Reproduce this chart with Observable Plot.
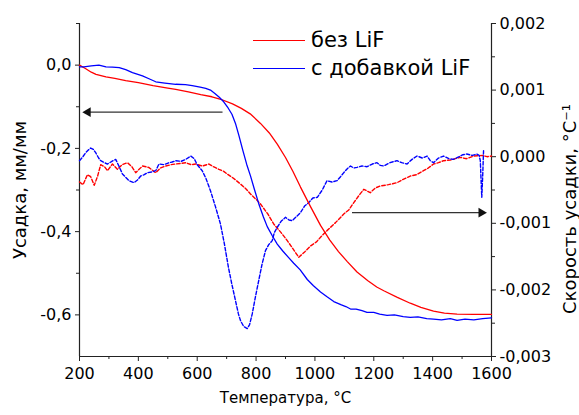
<!DOCTYPE html>
<html><head><meta charset="utf-8">
<script src="https://cdn.jsdelivr.net/npm/d3@7"></script>
<script src="https://cdn.jsdelivr.net/npm/@observablehq/plot@0.6"></script>
<style>
body{margin:0;background:#fff;}
#wrap{position:relative;width:579px;height:415px;font-family:"DejaVu Sans",sans-serif;color:#000;}
.leg{position:absolute;left:253px;height:24px;display:flex;align-items:center;font-size:21px;white-space:nowrap;}
.leg .sw{display:inline-block;width:52px;height:0;margin-right:6px;}
</style>
</head><body><div id="wrap"></div>
<script>
// ---- data ----
const legendLabels = ["без LiF", "с добавкой LiF"];
const seriesColors = ["#ff0000", "#0000ff"];

// shrinkage, mm/mm (left axis) — without LiF
const shrinkNoLiF_T = [200,220,240,256,290,320,357,400,450,500,527,570,612,650,680,720,750,780,815,845,872,900,925,951,985,1019,1050,1080,1110,1143,1180,1210,1234,1280,1324,1360,1403,1440,1483,1540,1600];
const shrinkNoLiF_v = [0,-0.008,-0.017,-0.022,-0.028,-0.032,-0.037,-0.042,-0.049,-0.055,-0.058,-0.064,-0.071,-0.076,-0.082,-0.093,-0.104,-0.117,-0.140,-0.163,-0.190,-0.222,-0.255,-0.293,-0.340,-0.385,-0.420,-0.448,-0.472,-0.497,-0.518,-0.533,-0.542,-0.558,-0.572,-0.582,-0.591,-0.596,-0.598,-0.599,-0.599];

// shrinkage, mm/mm — with LiF
const shrinkLiF_T = [200,215,240,266,290,312,335,357,380,414,440,459,490,527,560,583,610,629,645,660,675,690,705,718,730,742,755,768,781,795,810,825,838,855,872,890,910,928,950,974,995,1019,1040,1064,1090,1105,1121,1140,1160,1177,1200,1220,1245,1270,1300,1324,1350,1380,1403,1430,1460,1483,1510,1540,1570,1600];
const shrinkLiF_v = [-0.004,-0.004,-0.002,0.0,-0.004,-0.005,-0.006,-0.011,-0.018,-0.026,-0.034,-0.040,-0.043,-0.046,-0.047,-0.049,-0.053,-0.056,-0.060,-0.068,-0.077,-0.088,-0.103,-0.118,-0.140,-0.170,-0.205,-0.238,-0.266,-0.300,-0.335,-0.365,-0.388,-0.410,-0.430,-0.446,-0.462,-0.476,-0.492,-0.515,-0.530,-0.545,-0.556,-0.568,-0.576,-0.580,-0.586,-0.586,-0.590,-0.594,-0.594,-0.598,-0.601,-0.600,-0.604,-0.606,-0.605,-0.609,-0.610,-0.612,-0.609,-0.613,-0.610,-0.612,-0.609,-0.607];

// shrinkage rate, 10^-3 °C^-1 (right axis) — without LiF
const rateNoLiF_T = [200,212,227,238,250,261,272,285,295,312,329,345,363,378,391,414,435,459,475,493,510,527,545,561,580,595,617,640,655,674,690,702,725,747,765,781,800,815,840,860,885,906,925,945,965,985,1005,1019,1041,1070,1098,1115,1132,1150,1166,1188,1205,1222,1250,1279,1300,1324,1345,1369,1385,1403,1420,1437,1460,1494,1515,1539,1570,1585,1600];
const rateNoLiF_milli = [-0.38,-0.42,-0.27,-0.30,-0.43,-0.30,-0.12,-0.15,-0.21,-0.11,-0.19,-0.12,-0.09,-0.15,-0.24,-0.14,-0.16,-0.24,-0.17,-0.14,-0.12,-0.11,-0.10,-0.09,-0.12,-0.11,-0.14,-0.11,-0.15,-0.19,-0.22,-0.26,-0.33,-0.41,-0.48,-0.56,-0.64,-0.71,-0.86,-1.01,-1.14,-1.26,-1.38,-1.51,-1.43,-1.34,-1.28,-1.21,-1.11,-0.99,-0.86,-0.80,-0.69,-0.58,-0.49,-0.54,-0.47,-0.44,-0.42,-0.39,-0.34,-0.29,-0.27,-0.21,-0.17,-0.11,-0.09,-0.06,-0.05,-0.01,-0.03,0.01,0.02,0.00,0.01];

// shrinkage rate — with LiF
const rateLiF_T = [200,210,221,230,238,247,255,265,272,285,295,310,323,335,346,357,368,385,397,408,420,431,445,459,470,487,504,515,527,545,561,578,590,600,617,630,645,662,679,692,706,718,730,740,747,758,770,778,787,798,809,820,832,843,855,862,872,885,900,912,923,937,951,965,979,993,1008,1025,1041,1058,1075,1087,1098,1110,1121,1132,1143,1160,1177,1195,1211,1222,1234,1255,1279,1295,1313,1330,1347,1365,1381,1392,1403,1420,1437,1455,1471,1490,1503,1516,1535,1550,1558,1562,1565,1567,1570,1573];
const rateLiF_milli = [-0.06,-0.01,0.06,0.10,0.13,0.11,0.06,-0.02,-0.06,-0.09,-0.11,-0.07,-0.04,-0.15,-0.26,-0.31,-0.36,-0.39,-0.35,-0.29,-0.27,-0.24,-0.23,-0.21,-0.11,-0.12,-0.09,-0.08,-0.06,-0.07,-0.04,0.01,-0.03,-0.12,-0.21,-0.33,-0.51,-0.75,-1.01,-1.30,-1.66,-1.92,-2.16,-2.36,-2.46,-2.55,-2.58,-2.52,-2.36,-2.10,-1.86,-1.62,-1.41,-1.32,-1.26,-1.14,-1.06,-0.97,-0.91,-0.95,-0.96,-0.90,-0.84,-0.74,-0.69,-0.62,-0.61,-0.50,-0.36,-0.38,-0.36,-0.30,-0.24,-0.18,-0.14,-0.17,-0.16,-0.14,-0.15,-0.11,-0.09,-0.13,-0.14,-0.09,-0.06,-0.09,-0.11,-0.04,0.01,-0.02,0.01,-0.06,-0.09,-0.02,0.01,-0.03,-0.04,0.00,0.03,0.04,0.02,0.04,0.02,-0.06,-0.40,-0.61,-0.30,0.09];

// axis ticks
const xMajor = [200,400,600,800,1000,1200,1400,1600];
const xMinor = [300,500,700,900,1100,1300,1500];
const yMajor = [0,-0.2,-0.4,-0.6];
const yMinor = [0.1,-0.1,-0.3,-0.5];
const rMajor = [0.002,0.001,0,-0.001,-0.002,-0.003];
const rMinor = [0.0015,0.0005,-0.0005,-0.0015,-0.0025];

const xTitle = "Температура, °C";
const yTitle = "Усадка, мм/мм";
const rTitle = "Скорость усадки, °C⁻¹";

// annotation arrows
const arrowToLeft = {from: 686, to: 215, value: -0.113};             // left axis
const arrowToRight = {from: 1126, to: 1579, value: -0.00084};        // right axis

// ---- mapping right axis onto left scale ----
const yDom = [-0.7, 0.1], rDom = [-0.003, 0.002];
const toLeft = r => yDom[0] + (r - rDom[0]) / (rDom[1] - rDom[0]) * (yDom[1] - yDom[0]);
const fromLeft = v => rDom[0] + (v - yDom[0]) / (yDom[1] - yDom[0]) * (rDom[1] - rDom[0]);

const mk = (T, V, f) => T.map((t, i) => ({T: t, v: f ? f(V[i]) : V[i]}));
const sNo = mk(shrinkNoLiF_T, shrinkNoLiF_v);
const sLi = mk(shrinkLiF_T, shrinkLiF_v);
const rNo = mk(rateNoLiF_T, rateNoLiF_milli, m => toLeft(m / 1000));
const rLi = mk(rateLiF_T, rateLiF_milli, m => toLeft(m / 1000));

const fmtL = d => (Math.abs(d) < 1e-9 ? 0 : d).toFixed(1).replace(".", ",");
const fmtR = d => { const r = fromLeft(d); return (Math.abs(r) < 1e-9 ? 0 : r).toFixed(3).replace(".", ","); };

const axisColor = "#222";
const aL = arrowToLeft, aR = arrowToRight;
const aRv = toLeft(aR.value);
const xPerPx = (1600 - 200) / (579 - 79 - 88);

const chart = Plot.plot({
  width: 579, height: 415,
  marginLeft: 79, marginRight: 88, marginTop: 23, marginBottom: 59,
  style: {fontFamily: "DejaVu Sans, sans-serif", fontSize: "16px", background: "#fff", color: "#000"},
  x: {domain: [200, 1600], axis: null},
  y: {domain: yDom, axis: null},
  marks: [
    Plot.axisX(xMajor, {tickSize: 5, tickPadding: 6, fontSize: 16, label: null, tickFormat: d => String(d), stroke: axisColor}),
    Plot.axisX(xMinor, {tickSize: 3, label: null, tickFormat: () => "", stroke: axisColor}),
    Plot.axisY(yMajor, {anchor: "left", tickSize: 4, tickPadding: 4, fontSize: 16, label: null, tickFormat: fmtL, stroke: axisColor}),
    Plot.axisY(yMinor, {anchor: "left", tickSize: 3, label: null, tickFormat: () => "", stroke: axisColor}),
    Plot.axisY(rMajor.map(toLeft), {anchor: "right", tickSize: 4, tickPadding: 4, fontSize: 16, label: null, tickFormat: fmtR, stroke: axisColor}),
    Plot.axisY(rMinor.map(toLeft), {anchor: "right", tickSize: 3, label: null, tickFormat: () => "", stroke: axisColor}),
    Plot.ruleX([200, 1600], {stroke: axisColor, strokeWidth: 1.2}),
    Plot.ruleY([yDom[0]], {stroke: axisColor, strokeWidth: 1.2}),
    Plot.line(rNo, {x: "T", y: "v", stroke: seriesColors[0], strokeWidth: 1.4, strokeDasharray: "3.5,2"}),
    Plot.line(rLi, {x: "T", y: "v", stroke: seriesColors[1], strokeWidth: 1.4, strokeDasharray: "3.5,2"}),
    Plot.line(sNo, {x: "T", y: "v", stroke: seriesColors[0], strokeWidth: 1.3}),
    Plot.line(sLi, {x: "T", y: "v", stroke: seriesColors[1], strokeWidth: 1.3}),
    Plot.link([aL], {x1: "from", x2: d => d.to + 6 * xPerPx, y1: "value", y2: "value", stroke: "#333", strokeWidth: 1.2}),
    Plot.dot([aL], {x: d => d.to + 4 * xPerPx, y: "value", symbol: "triangle", r: 3.6, fill: "#111", stroke: "none", rotate: -90}),
    Plot.link([aR], {x1: "from", x2: d => d.to - 6 * xPerPx, y1: () => aRv, y2: () => aRv, stroke: "#333", strokeWidth: 1.2}),
    Plot.dot([aR], {x: d => d.to - 4 * xPerPx, y: () => aRv, symbol: "triangle", r: 3.6, fill: "#111", stroke: "none", rotate: 90}),
    Plot.text([yTitle], {frameAnchor: "left", textAnchor: "middle", lineAnchor: "middle", rotate: -90, dx: -59, fontSize: 18, fill: "#000"}),
    Plot.text([rTitle], {frameAnchor: "right", textAnchor: "middle", lineAnchor: "middle", rotate: -90, dx: 79, dy: 19, fontSize: 18, fill: "#000"}),
    Plot.text([xTitle], {frameAnchor: "bottom", textAnchor: "middle", lineAnchor: "middle", dy: 42, fontSize: 15, fill: "#000"})
  ]
});

const wrap = document.getElementById("wrap");
wrap.appendChild(chart);
const legY = [40, 68];
legendLabels.forEach((lab, i) => {
  const d = document.createElement("div");
  d.className = "leg";
  d.style.top = (legY[i] - 12) + "px";
  const sw = document.createElement("span");
  sw.className = "sw";
  sw.style.borderTop = "1.6px solid " + seriesColors[i];
  d.appendChild(sw);
  d.appendChild(document.createTextNode(lab));
  wrap.appendChild(d);
});
</script>
</body></html>
